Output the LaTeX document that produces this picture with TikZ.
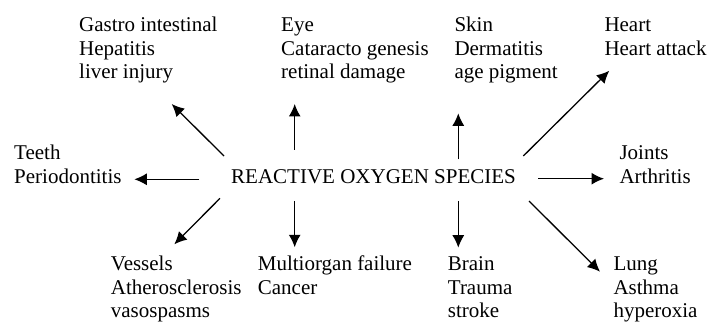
\documentclass[tikz,border=0pt]{standalone}
\usepackage{fontspec}
\setmainfont{Liberation Serif}
\usetikzlibrary{arrows.meta}
\newcommand\blk[1]{\begin{tabular}[t]{@{}l@{}}#1\end{tabular}}
\begin{document}
\begin{tikzpicture}[x=1pt,y=-1pt,
  lbl/.style={anchor=base west,inner sep=0pt,font=\fontsize{21}{23.6}\selectfont},
  arr/.style={line width=1.3pt,-{Latex[length=12.5pt,width=12pt]}}]
\useasboundingbox (0,0) rectangle (709,323);
\node[lbl] (ros) at (231,183.3) {REACTIVE OXYGEN SPECIES};
\node[lbl] (gastro) at (79,31.7) {\blk{Gastro intestinal\\Hepatitis\\liver injury}};
\node[lbl] (eye) at (281,31.7) {\blk{Eye\\Cataracto genesis\\retinal damage}};
\node[lbl] (skin) at (454.3,31.7) {\blk{Skin\\Dermatitis\\age pigment}};
\node[lbl] (heart) at (604.3,31.7) {\blk{Heart\\Heart attack}};
\node[lbl] (teeth) at (14,159.6) {\blk{Teeth\\Periodontitis}};
\node[lbl] (joints) at (619.3,159.6) {\blk{Joints\\Arthritis}};
\node[lbl] (vessels) at (110.7,270.7) {\blk{Vessels\\Atherosclerosis\\vasospasms}};
\node[lbl] (multi) at (257.7,270.7) {\blk{Multiorgan failure\\Cancer}};
\node[lbl] (brain) at (447.7,270.7) {\blk{Brain\\Trauma\\stroke}};
\node[lbl] (lung) at (613.3,270.7) {\blk{Lung\\Asthma\\hyperoxia}};
% arrow ends
\coordinate (g0) at (224,156);   \coordinate (g1) at (171.7,104);
\coordinate (e0) at (294.7,150); \coordinate (e1) at (294.7,104);
\coordinate (s0) at (458.3,159.3); \coordinate (s1) at (458.3,113.3);
\coordinate (h0) at (523.3,156); \coordinate (h1) at (609.3,70.7);
\coordinate (t0) at (199.3,179.3); \coordinate (t1) at (134.3,179.3);
\coordinate (j0) at (538.3,178.7); \coordinate (j1) at (604,178.7);
\coordinate (v0) at (220,198.3); \coordinate (v1) at (174.3,244.3);
\coordinate (m0) at (294.7,201); \coordinate (m1) at (294.7,247.3);
\coordinate (b0) at (458.3,201); \coordinate (b1) at (458.3,247.7);
\coordinate (l0) at (529,201); \coordinate (l1) at (600,271.7);
\foreach \a in {g,e,s,h,t,j,v,m,b,l}{\draw[arr] (\a0) -- (\a1);}
\end{tikzpicture}
\end{document}
